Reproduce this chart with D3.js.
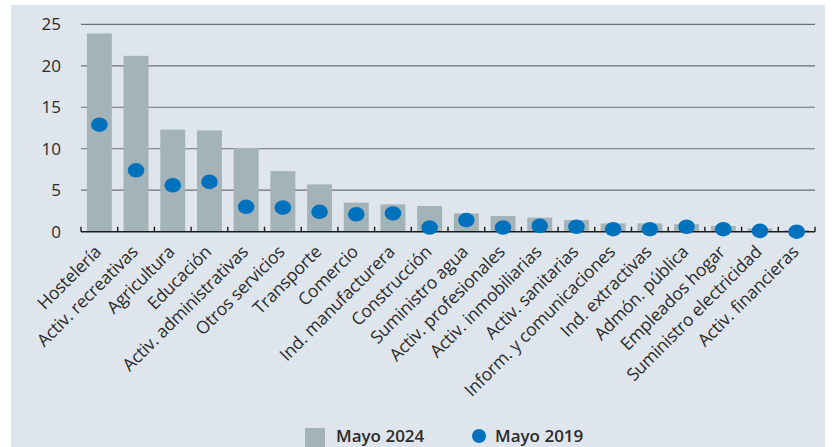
<!DOCTYPE html>
<html lang="es">
<head>
  <meta charset="UTF-8">
  <title>Mayo 2024 vs Mayo 2019</title>
  <script src="https://d3js.org/d3.v7.min.js"></script>
  <style>
    body { margin: 0; background: #fff; }
    text { font-family: "Open Sans", "Noto Sans", sans-serif; fill: #2b2b2b; }
  </style>
</head>
<body>
<div class="main"></div>
<script>
  // data
  var sectors = ["Hostelería", "Activ. recreativas", "Agricultura", "Educación", "Activ. administrativas",
    "Otros servicios", "Transporte", "Comercio", "Ind. manufacturera", "Construcción", "Suministro agua",
    "Activ. profesionales", "Activ. inmobiliarias", "Activ. sanitarias", "Inform. y comunicaciones",
    "Ind. extractivas", "Admón. pública", "Empleados hogar", "Suministro electricidad", "Activ. financieras"];
  var may2024 = [23.9, 21.2, 12.3, 12.2, 10.1, 7.3, 5.7, 3.5, 3.3, 3.1, 2.2, 1.9, 1.7, 1.4, 1.0, 1.0, 0.9, 0.7, 0.4, 0.2];
  var may2019 = [12.9, 7.4, 5.6, 6.0, 3.0, 2.9, 2.4, 2.1, 2.2, 0.5, 1.4, 0.5, 0.7, 0.6, 0.3, 0.3, 0.6, 0.3, 0.1, 0.0];
  var yTicks = [0, 5, 10, 15, 20, 25];
  var legendNames = ["Mayo 2024", "Mayo 2019"];

  var width = 832, height = 447;
  var svg = d3.select(".main").append("svg").attr("width", width).attr("height", height).style("display", "block");

  // panel
  svg.append("rect").attr("x", 11).attr("y", 5).attr("width", 814).attr("height", 442).style("fill", "#dfe5ec");

  var x = d3.scaleBand().domain(sectors).range([81, 815]).paddingInner(0.32).paddingOuter(0.16);
  var y = d3.scaleLinear().domain([0, 25]).range([231.7, 24.3]);

  // gridlines
  svg.append("g").selectAll("line").data(yTicks.slice(1)).enter().append("line")
    .attr("x1", 81).attr("x2", 815).attr("y1", d => y(d)).attr("y2", d => y(d))
    .style("stroke", "#6b6f73").style("stroke-width", 1.2);

  // y labels
  svg.append("g").selectAll("text").data(yTicks).enter().append("text")
    .attr("x", 61).attr("y", d => y(d) + 6).attr("text-anchor", "end")
    .style("font-size", "17px").text(d => d);

  // bars
  svg.append("g").selectAll("rect").data(sectors).enter().append("rect")
    .attr("x", d => x(d)).attr("width", x.bandwidth())
    .attr("y", (d, i) => y(may2024[i])).attr("height", (d, i) => y(0) - y(may2024[i]))
    .style("fill", "#a4b3b7");

  // x axis baseline + ticks between categories
  var bounds = d3.range(sectors.length + 1).map(i => 81 + i * (734 / sectors.length));
  svg.append("line").attr("x1", 81).attr("x2", 815).attr("y1", y(0)).attr("y2", y(0))
    .style("stroke", "#1a1a1a").style("stroke-width", 1.6);
  svg.append("g").selectAll("line").data(bounds).enter().append("line")
    .attr("x1", d => d).attr("x2", d => d).attr("y1", y(0)).attr("y2", y(0) - 5)
    .style("stroke", "#1a1a1a").style("stroke-width", 1.4);

  // dots
  svg.append("g").selectAll("ellipse").data(sectors).enter().append("ellipse")
    .attr("cx", d => x(d) + x.bandwidth() / 2).attr("cy", (d, i) => y(may2019[i]))
    .attr("rx", 8.3).attr("ry", 7.3).style("fill", "#0071bc");

  // x labels
  svg.append("g").selectAll("text").data(sectors).enter().append("text")
    .attr("transform", d => "translate(" + (x(d) + x.bandwidth() / 2 + 3) + "," + 253 + ") rotate(-45)")
    .attr("text-anchor", "end").style("font-size", "17.5px").style("letter-spacing", "-0.2px").text(d => d);

  // legend
  var lg = svg.append("g").style("font-size", "17px").style("font-weight", 600);
  lg.append("rect").attr("x", 305).attr("y", 428).attr("width", 20).attr("height", 19).style("fill", "#a4b3b7");
  lg.append("text").attr("x", 336).attr("y", 442).text(legendNames[0]);
  lg.append("circle").attr("cx", 479).attr("cy", 436).attr("r", 7).style("fill", "#0071bc");
  lg.append("text").attr("x", 495).attr("y", 442).text(legendNames[1]);
</script>
</body>
</html>
